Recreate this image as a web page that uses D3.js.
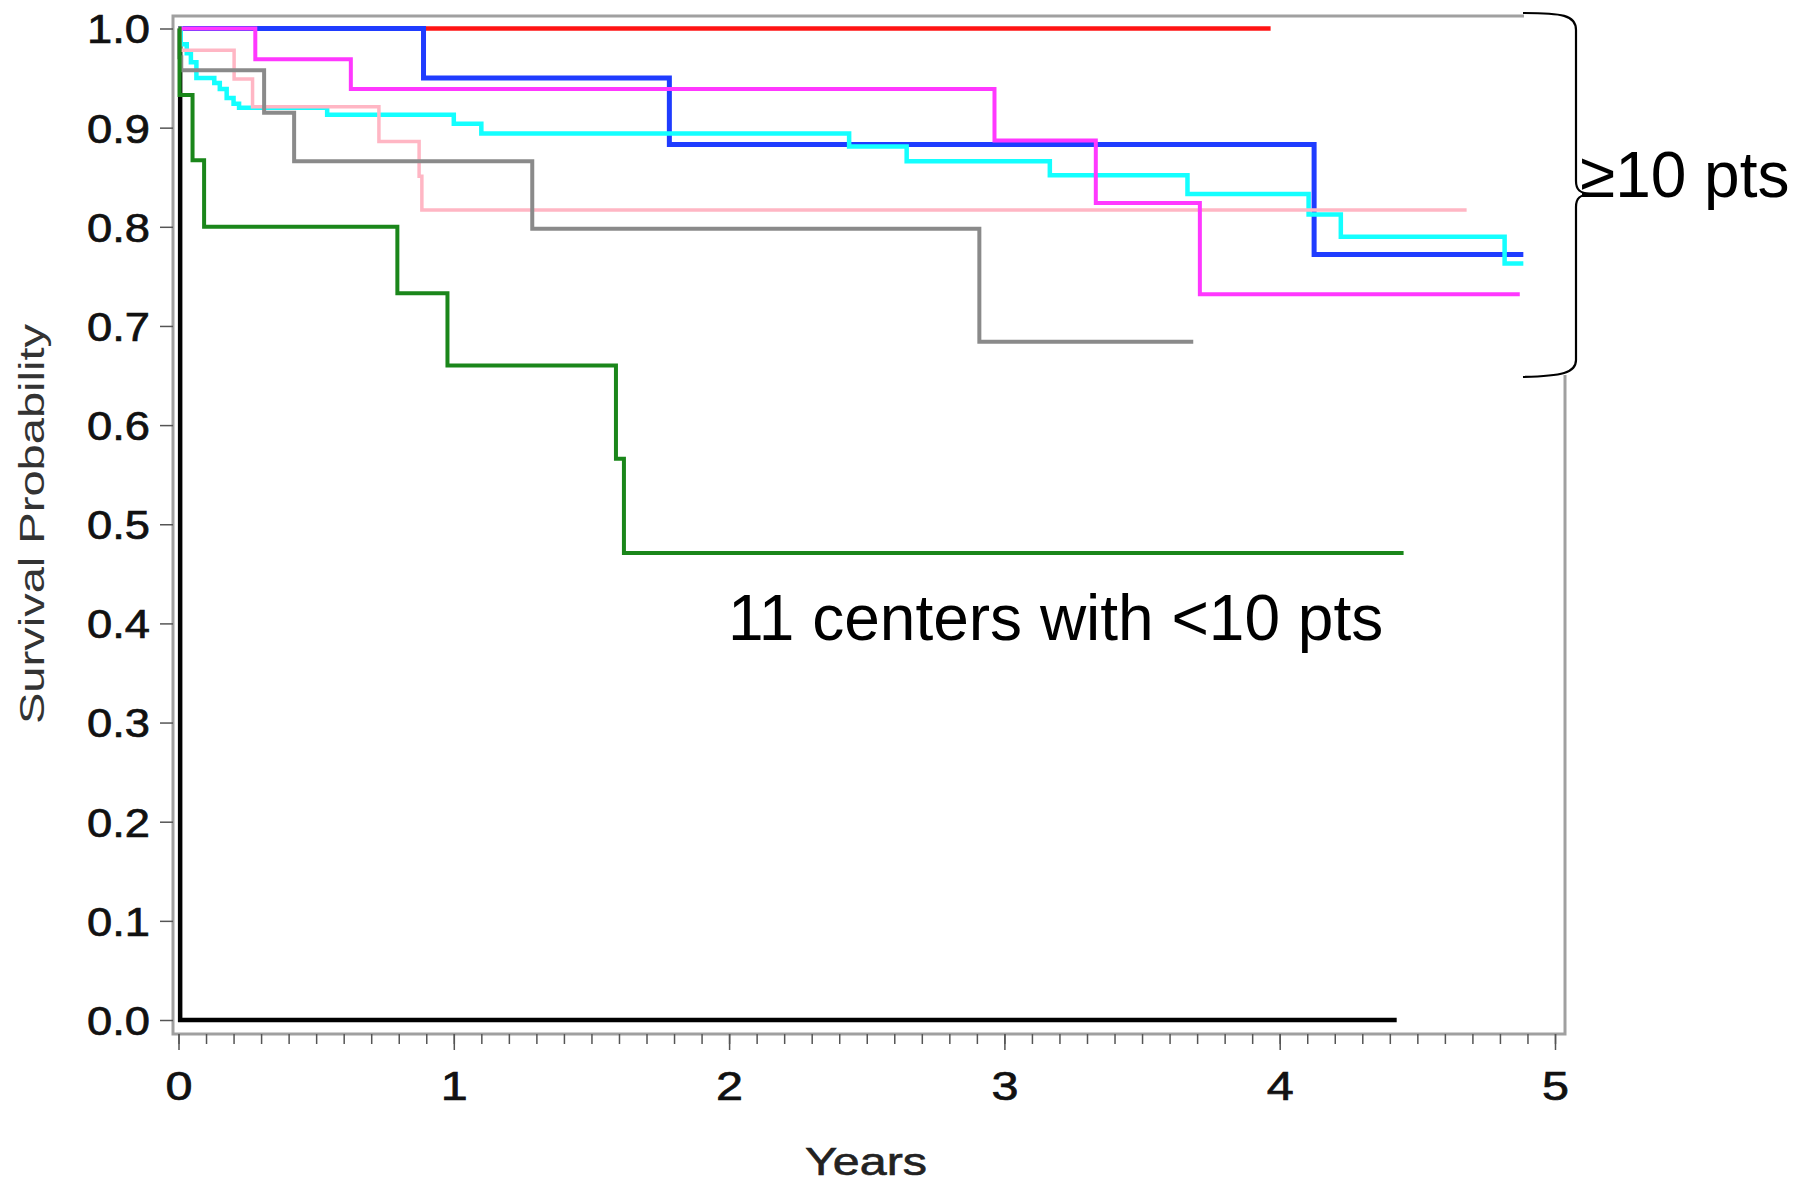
<!DOCTYPE html>
<html>
<head>
<meta charset="utf-8">
<script src="https://cdn.jsdelivr.net/npm/d3@7"></script>
<style>
  body { margin: 0; background: #fff; }
  svg { display: block; font-family: "Liberation Sans", Arial, sans-serif; }
</style>
</head>
<body>
<div id="chart"></div>
<script>
const width = 1797, height = 1182;

// Kaplan-Meier steps per center: [years, survival probability]; last point = end of follow-up
const centerBlack   = [[0, 1], [0.006, 0], [4.425, 0]];
const centerRed     = [[0, 1], [3.967, 1]];
const centerBlue    = [[0, 1], [0.89, 0.950], [1.783, 0.883], [4.125, 0.772], [4.885, 0.772]];
const centerCyan    = [[0, 1], [0.008, 0.984], [0.03, 0.975], [0.045, 0.966], [0.065, 0.950], [0.13, 0.945],
                       [0.15, 0.939], [0.175, 0.930], [0.20, 0.924], [0.22, 0.920], [0.54, 0.913],
                       [1.00, 0.904], [1.10, 0.894], [2.436, 0.881], [2.645, 0.866], [3.165, 0.852],
                       [3.665, 0.833], [4.105, 0.8125], [4.222, 0.790], [4.817, 0.763], [4.885, 0.763]];
const centerPink    = [[0, 1], [0.005, 0.978], [0.202, 0.949], [0.269, 0.921], [0.728, 0.886],
                       [0.874, 0.851], [0.884, 0.817], [4.679, 0.817]];
const centerGray    = [[0, 1], [0.003, 0.971], [0.01, 0.958], [0.311, 0.915], [0.42, 0.866],
                       [1.285, 0.798], [2.909, 0.684], [3.686, 0.684]];
const centerMagenta = [[0, 1], [0.279, 0.969], [0.626, 0.939], [2.964, 0.887], [3.332, 0.824],
                       [3.71, 0.732], [4.872, 0.732]];
const centerGreen   = [[0, 1], [0.004, 0.933], [0.051, 0.867], [0.093, 0.80], [0.795, 0.733],
                       [0.977, 0.66], [1.589, 0.566], [1.618, 0.471], [4.45, 0.471]];

const xTicks = [0, 1, 2, 3, 4, 5];
const xMinorTicks = d3.range(0, 51).map((i) => i / 10);
const yTicks = [0, 0.1, 0.2, 0.3, 0.4, 0.5, 0.6, 0.7, 0.8, 0.9, 1.0];
const yTickLabels = ["0.0", "0.1", "0.2", "0.3", "0.4", "0.5", "0.6", "0.7", "0.8", "0.9", "1.0"];

// drawing order, bottom to top
let curves = [
  { data: centerBlack,   color: "#000000", w: 4.5 },
  { data: centerRed,     color: "#ff1414", w: 4.5 },
  { data: centerBlue,    color: "#1f3cff", w: 5 },
  { data: centerCyan,    color: "#14ffff", w: 4.5 },
  { data: centerPink,    color: "#ffb6c4", w: 3.5 },
  { data: centerGray,    color: "#8a8a8a", w: 4 },
  { data: centerMagenta, color: "#ff38ff", w: 4 },
  { data: centerGreen,   color: "#1a861a", w: 4 }
];

let x = d3.scaleLinear().domain([0, 5]).range([178.5, 1555]);
let y = d3.scaleLinear().domain([0, 1]).range([1020, 28.5]);

let svg = d3.select("#chart")
  .append("svg")
  .attr("width", width)
  .attr("height", height);

// plot frame
svg.append("rect")
  .attr("x", 173).attr("y", 16)
  .attr("width", 1392).attr("height", 1018)
  .attr("fill", "none")
  .attr("stroke", "#a0a0a0")
  .attr("stroke-width", 3);

// x axis: minor then major ticks
svg.append("g")
  .attr("transform", "translate(0,1034)")
  .call(d3.axisBottom(x).tickValues(xMinorTicks).tickSize(10).tickFormat(""))
  .call((g) => g.select(".domain").remove())
  .call((g) => g.selectAll("line").attr("stroke", "#555").attr("stroke-width", 1.5));

let xAxis = svg.append("g")
  .attr("transform", "translate(0,1034)")
  .call(d3.axisBottom(x).tickValues(xTicks).tickSize(16).tickFormat(d3.format("d")));
xAxis.select(".domain").remove();
xAxis.selectAll("line").attr("stroke", "#555").attr("stroke-width", 1.5);
xAxis.selectAll("text")
  .attr("y", 66).attr("dy", null)
  .attr("font-size", 40)
  .attr("fill", "#111")
  .attr("stroke", "#111").attr("stroke-width", 0.7)
  .attr("textLength", 27)
  .attr("lengthAdjust", "spacingAndGlyphs");

// y axis
let yAxis = svg.append("g")
  .attr("transform", "translate(173,0)")
  .call(d3.axisLeft(y).tickValues(yTicks).tickSize(13).tickFormat((d, i) => yTickLabels[i]));
yAxis.select(".domain").remove();
yAxis.selectAll("line").attr("stroke", "#555").attr("stroke-width", 1.5);
yAxis.selectAll("text")
  .attr("x", -23).attr("dy", "0.36em")
  .attr("font-size", 40)
  .attr("fill", "#111")
  .attr("stroke", "#111").attr("stroke-width", 0.7)
  .attr("textLength", 63)
  .attr("lengthAdjust", "spacingAndGlyphs");

// axis titles
svg.append("text")
  .attr("x", 866).attr("y", 1175)
  .attr("text-anchor", "middle")
  .attr("font-size", 39)
  .attr("fill", "#222")
  .attr("stroke", "#222").attr("stroke-width", 0.6)
  .attr("textLength", 122)
  .attr("lengthAdjust", "spacingAndGlyphs")
  .text("Years");

svg.append("text")
  .attr("transform", "translate(43.5,524) rotate(-90)")
  .attr("text-anchor", "middle")
  .attr("font-size", 35)
  .attr("fill", "#333")
  .attr("textLength", 400)
  .attr("lengthAdjust", "spacingAndGlyphs")
  .text("Survival Probability");

// survival curves
let line = d3.line()
  .x((d) => x(d[0]))
  .y((d) => y(d[1]))
  .curve(d3.curveStepAfter);

svg.append("g")
  .attr("class", "curves")
  .selectAll("path")
  .data(curves)
  .join("path")
  .attr("d", (d) => line(d.data))
  .attr("fill", "none")
  .attr("stroke", (d) => d.color)
  .attr("stroke-width", (d) => d.w)
  .attr("stroke-linejoin", "miter");

// annotation pasted over the top right corner
svg.append("rect")
  .attr("x", 1524).attr("y", 0)
  .attr("width", width - 1524).attr("height", 375)
  .attr("fill", "#fff");

svg.append("path")
  .attr("d", "M1523,13 C1562,13 1576,15 1576,30 L1576,181 C1576,190 1580,193 1590,194 C1580,195 1576,198 1576,207 L1576,360 C1576,373 1562,376 1523,377")
  .attr("fill", "none")
  .attr("stroke", "#000")
  .attr("stroke-width", 2.2);

svg.append("text")
  .attr("x", 1580).attr("y", 197)
  .attr("font-size", 64)
  .attr("fill", "#000")
  .text("≥10 pts");

svg.append("text")
  .attr("x", 728).attr("y", 640)
  .attr("font-size", 64)
  .attr("fill", "#000")
  .text("11 centers with <10 pts");
</script>
</body>
</html>
